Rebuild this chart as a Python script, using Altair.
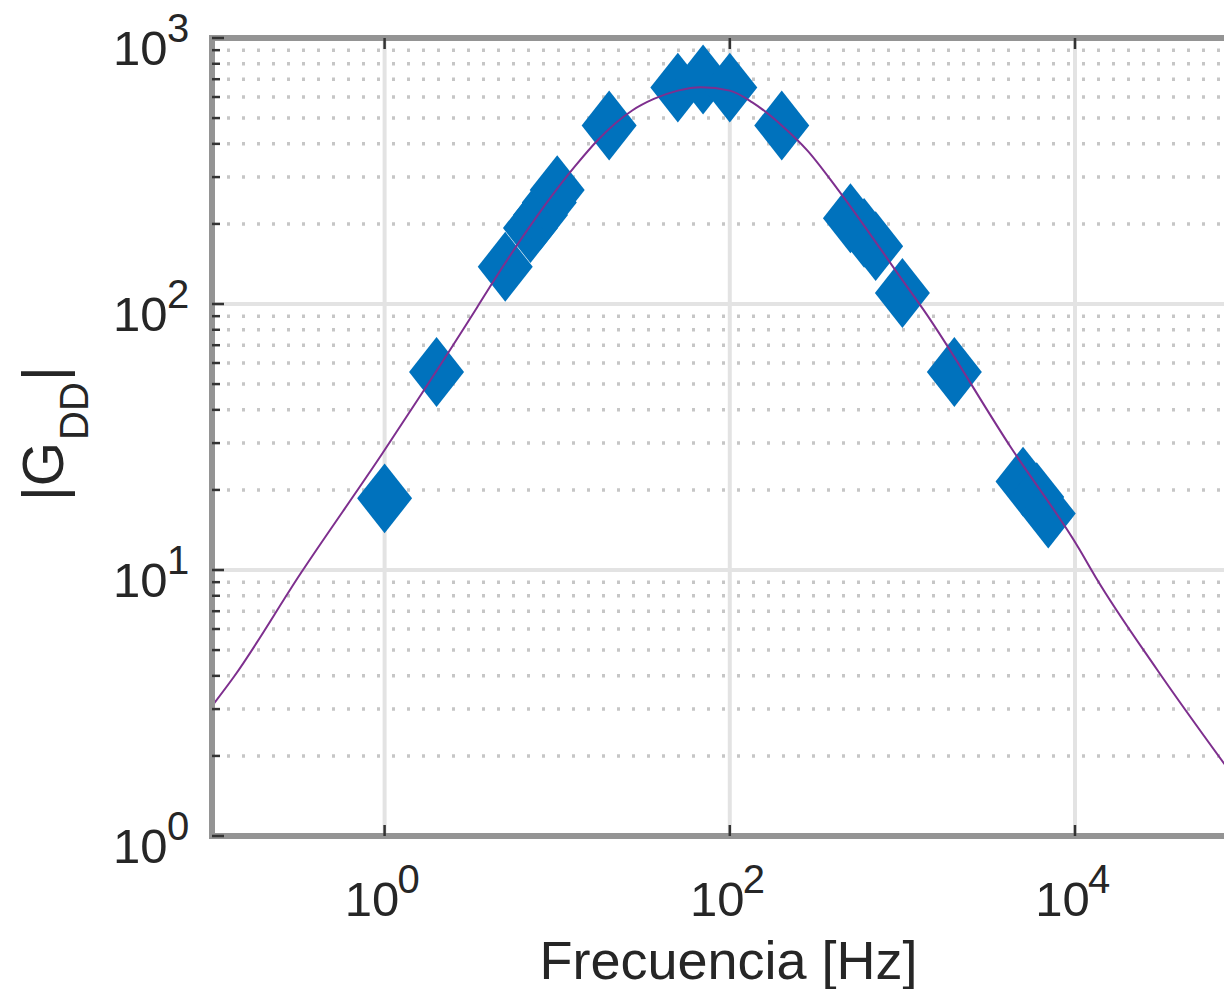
import altair as alt
import pandas as pd

# ---------------- data ----------------
meas_freq = [1, 2, 5, 7, 8, 9, 10, 20, 50, 70, 100, 200, 500, 600, 700, 1000, 2000, 5000, 6000, 7000]
meas_mag = [18.6, 55.5, 138, 193, 216, 241, 268, 469, 651, 698, 651, 469, 210, 185, 165, 110, 55.5, 21.5, 18.8, 16.3]

curve_freq = [0.1, 0.134, 0.326, 0.97, 1.69, 3.44, 4.30, 12.8, 17.1, 27.2, 36.3, 50, 68, 100,
              135, 200, 281, 420, 1000, 1333, 4236, 10540, 13150, 30000, 81500]
curve_mag = [3.08, 3.97, 9.7, 27.4, 47.4, 97.3, 122.6, 332, 412, 534, 590, 634, 653, 634,
             573, 469, 378, 271, 123, 94.6, 29, 12.05, 9.42, 4.21, 1.70]

x_major = [1, 100, 10000]
x_exp = ["0", "2", "4"]
y_major = [1, 10, 100, 1000]
y_exp = ["0", "1", "2", "3"]
y_minor = [2, 3, 4, 5, 6, 7, 8, 9,
           20, 30, 40, 50, 60, 70, 80, 90,
           200, 300, 400, 500, 600, 700, 800, 900]

x_title = "Frecuencia [Hz]"

# ---------------- layout ----------------
W = 1012
H = 798
FONT = "Liberation Sans"
TXT = "#262626"

xs = alt.Scale(type="log", domain=[0.1, 73000], nice=False, zero=False)
ys = alt.Scale(type="log", domain=[1, 1000], nice=False, zero=False)

meas_df = pd.DataFrame({"f": meas_freq, "g": meas_mag})
curve_df = pd.DataFrame({"f": curve_freq, "g": curve_mag})
xmaj_df = pd.DataFrame({"v": x_major, "e": x_exp})
ymaj_df = pd.DataFrame({"v": y_major, "e": y_exp})
ymin_df = pd.DataFrame({"v": y_minor})
one = alt.Data(values=[{"a": 1}])

# grid
grid_minor = alt.Chart(ymin_df).mark_rule(color="#c6c6c6", strokeWidth=3.5, strokeDash=[3, 12]).encode(
    y=alt.Y("v:Q", scale=ys), x=alt.value(0), x2=alt.value(W))
grid_h = alt.Chart(ymaj_df).mark_rule(color="#e3e3e3", strokeWidth=4).encode(
    y=alt.Y("v:Q", scale=ys), x=alt.value(0), x2=alt.value(W))
grid_v = alt.Chart(xmaj_df).mark_rule(color="#e3e3e3", strokeWidth=4).encode(
    x=alt.X("v:Q", scale=xs), y=alt.value(0), y2=alt.value(H))

# measured points (diamonds) -- this layer carries the axes
points = alt.Chart(meas_df).mark_point(
    shape="M0,-1.27L1,0L0,1.27L-1,0Z", filled=True, size=3025, color="#0072BD", opacity=1
).encode(
    x=alt.X("f:Q", scale=xs, axis=alt.Axis(
        values=x_major, labelExpr="'10'", ticks=False, tickSize=0, domain=False, grid=False,
        labelFont=FONT, labelFontSize=49, labelColor=TXT, labelAlign="center",
        labelBaseline="alphabetic", labelPadding=79, labelOffset=-13, labelFlush=False,
        labelOverlap=False, labelBound=False,
        title=x_title, titleFont=FONT, titleFontSize=54, titleFontWeight="normal", titleColor=TXT,
        titleX=516, titleY=142, titleAlign="center", titleBaseline="alphabetic")),
    y=alt.Y("g:Q", scale=ys, axis=alt.Axis(
        values=y_major, labelExpr="'10'", ticks=False, tickSize=0, domain=False, grid=False,
        labelFont=FONT, labelFontSize=49, labelColor=TXT, labelAlign="right",
        labelBaseline="alphabetic", labelPadding=45, labelOffset=26, labelFlush=False,
        labelOverlap=False, labelBound=False, title="")),
)

# fitted curve
curve = alt.Chart(curve_df).mark_line(color="#7E2F8E", strokeWidth=2, interpolate="monotone", clip=True).encode(
    x=alt.X("f:Q", scale=xs), y=alt.Y("g:Q", scale=ys))

# frame (top, left, bottom)
FR = "#949494"
frame_top = alt.Chart(one).mark_rule(color=FR, strokeWidth=6).encode(
    x=alt.value(-3), x2=alt.value(W), y=alt.value(0))
frame_left = alt.Chart(one).mark_rule(color=FR, strokeWidth=6).encode(
    x=alt.value(0), y=alt.value(-3), y2=alt.value(H + 3))
frame_bot = alt.Chart(one).mark_rule(color=FR, strokeWidth=6).encode(
    x=alt.value(-3), x2=alt.value(W), y=alt.value(H))

# inward ticks
TK = "#333333"
ytick_minor = alt.Chart(ymin_df).mark_rule(color=TK, strokeWidth=2.5).encode(
    y=alt.Y("v:Q", scale=ys), x=alt.value(0), x2=alt.value(8))
ytick_major = alt.Chart(ymaj_df).mark_rule(color=TK, strokeWidth=2.5).encode(
    y=alt.Y("v:Q", scale=ys), x=alt.value(0), x2=alt.value(12))
xtick_top = alt.Chart(xmaj_df).mark_rule(color=TK, strokeWidth=2.5).encode(
    x=alt.X("v:Q", scale=xs), y=alt.value(0), y2=alt.value(11))
xtick_bot = alt.Chart(xmaj_df).mark_rule(color=TK, strokeWidth=2.5).encode(
    x=alt.X("v:Q", scale=xs), y=alt.value(H - 11), y2=alt.value(H))

# exponents of tick labels
x_exps = alt.Chart(xmaj_df).mark_text(font=FONT, fontSize=40, color=TXT, align="left",
                                      baseline="alphabetic", dx=13).encode(
    x=alt.X("v:Q", scale=xs), y=alt.value(855), text="e:N")
y_exps = alt.Chart(ymaj_df).mark_text(font=FONT, fontSize=40, color=TXT, align="left",
                                      baseline="alphabetic", dy=4).encode(
    y=alt.Y("v:Q", scale=ys), x=alt.value(-45), text="e:N")

# y title |G_DD|
yt1 = alt.Chart(one).mark_text(text="|G", font=FONT, fontSize=57, color=TXT, angle=270,
                               align="left", baseline="alphabetic").encode(
    x=alt.value(-149), y=alt.value(463))
yt2 = alt.Chart(one).mark_text(text="DD", font=FONT, fontSize=40, color=TXT, angle=270,
                               align="left", baseline="alphabetic").encode(
    x=alt.value(-124), y=alt.value(402))
yt3 = alt.Chart(one).mark_text(text="|", font=FONT, fontSize=57, color=TXT, angle=270,
                               align="left", baseline="alphabetic").encode(
    x=alt.value(-149), y=alt.value(343))

chart = alt.layer(
    grid_minor, grid_h, grid_v, points, curve,
    frame_top, frame_left, frame_bot,
    ytick_minor, ytick_major, xtick_top, xtick_bot,
    x_exps, y_exps, yt1, yt2, yt3,
).properties(
    width=W, height=H,
    autosize=alt.AutoSizeParams(type="none"),
    padding={"left": 204, "top": 30, "right": 0, "bottom": 153},
    background="white",
).configure_view(stroke=None)

chart.save("out.html", embed_options={"renderer": "svg", "actions": False})
